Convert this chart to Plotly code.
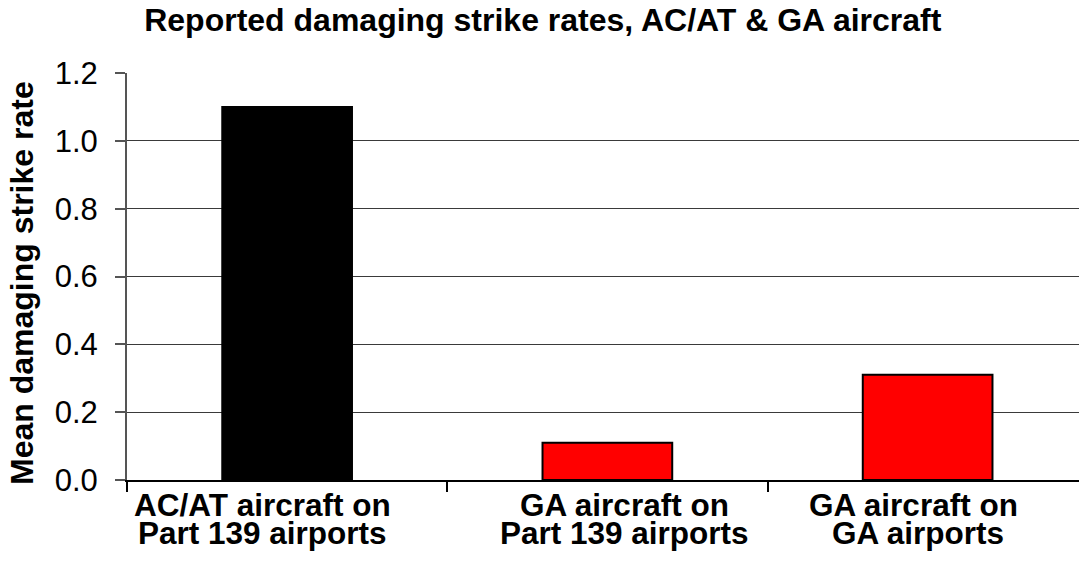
import plotly.graph_objects as go

# Chart data
categories = ["AC/AT aircraft on Part 139 airports",
              "GA aircraft on Part 139 airports",
              "GA aircraft on GA airports"]
label_lines = [["AC/AT aircraft on", "Part 139 airports"],
               ["GA aircraft on", "Part 139 airports"],
               ["GA aircraft on", "GA airports"]]
strike_rates = [1.1, 0.11, 0.31]
bar_colors = ["#000000", "#ff0000", "#ff0000"]
y_ticks = [0.0, 0.2, 0.4, 0.6, 0.8, 1.0, 1.2]
y_tick_text = ["0.0", "0.2", "0.4", "0.6", "0.8", "1.0", "1.2"]

FONT = "Liberation Sans, Arial, sans-serif"
W, H = 1079, 562
M_L, M_R, M_T, M_B = 127, 0, 73, 82

fig = go.Figure(go.Bar(
    x=categories,
    y=strike_rates,
    width=0.405,
    marker=dict(color=bar_colors, line=dict(color="#000000", width=2)),
    showlegend=False,
))

# per-label horizontal nudges (px) and line offsets below the axis (px)
label_shift = [-25, 17, -14]
line_offsets = [-25, -52.5]
annotations = []
for i, lines in enumerate(label_lines):
    for j, txt in enumerate(lines):
        annotations.append(dict(
            x=categories[i], xref="x", y=0, yref="paper",
            text=f"<b>{txt}</b>", showarrow=False,
            xanchor="center", yanchor="middle",
            xshift=label_shift[i] + (4 if (i == 2 and j == 1) else 0),
            yshift=line_offsets[j],
            font=dict(family=FONT, size=31.5, color="#000000"),
        ))

plot_w = W - M_L - M_R
plot_h = H - M_T - M_B
annotations.append(dict(
    x=(22 - M_L) / plot_w, xref="paper",
    y=(H - M_B - 283) / plot_h, yref="paper",
    text="<b>Mean damaging strike rate</b>", textangle=-90,
    showarrow=False, xanchor="center", yanchor="middle",
    font=dict(family=FONT, size=32, color="#000000"),
))

fig.update_layout(
    width=W, height=H,
    margin=dict(l=M_L, r=M_R, t=M_T, b=M_B, pad=0),
    paper_bgcolor="white", plot_bgcolor="white",
    title=dict(
        text="<b>Reported damaging strike rates, AC/AT &amp; GA aircraft</b>",
        x=542.8 / W, xanchor="center", xref="container",
        y=1 - 20 / H, yanchor="middle", yref="container",
        font=dict(family=FONT, size=32, color="#000000"),
    ),
    xaxis=dict(
        type="category",
        range=[-0.5, -0.5 + plot_w / 320.25],
        showticklabels=False,
        ticks="outside", tickson="boundaries", ticklen=10,
        tickcolor="#000000", tickwidth=1.5,
        showline=True, linecolor="#000000", linewidth=1.5,
        showgrid=False, zeroline=False,
    ),
    yaxis=dict(
        range=[0, 1.2],
        tickvals=y_ticks, ticktext=y_tick_text,
        ticks="outside", ticklen=10, tickcolor="#555555", tickwidth=1.5,
        ticklabelstandoff=11,
        tickfont=dict(family=FONT, size=31, color="#000000"),
        showline=True, linecolor="#555555", linewidth=2,
        showgrid=True, gridcolor="#3a3a3a", gridwidth=1.4,
        zeroline=False,
    ),
    annotations=annotations,
    bargap=0.6,
)

fig.write_html("out.html")
